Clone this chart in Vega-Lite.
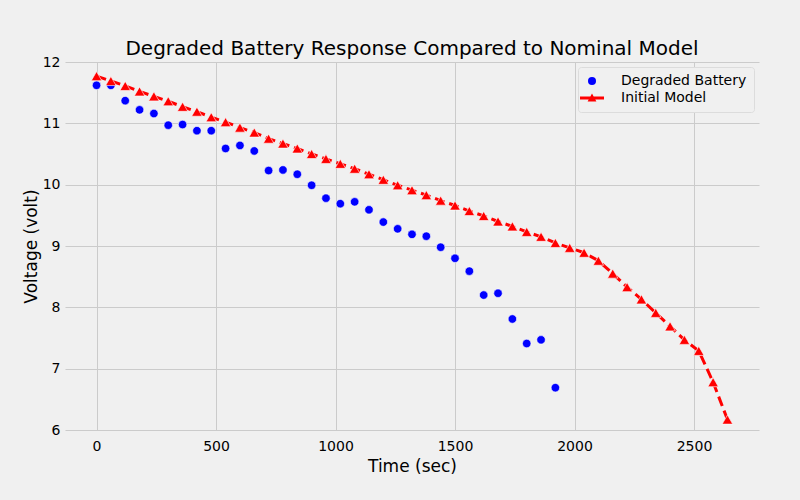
{
  "$schema": "https://vega.github.io/schema/vega-lite/v6.json",
  "width": 694,
  "height": 368,
  "autosize": {"type": "none"},
  "padding": {"left": 65, "top": 62, "right": 41, "bottom": 70},
  "background": "#f0f0f0",
  "title": {
    "text": "Degraded Battery Response Compared to Nominal Model",
    "fontSize": 20,
    "fontWeight": "normal",
    "font": "DejaVu Sans",
    "color": "#000000",
    "offset": -4,
    "anchor": "middle"
  },
  "data": {
    "values": [
      {"t": 0, "v": 11.62, "series": "Degraded Battery"},
      {"t": 60, "v": 11.62, "series": "Degraded Battery"},
      {"t": 120, "v": 11.37, "series": "Degraded Battery"},
      {"t": 180, "v": 11.22, "series": "Degraded Battery"},
      {"t": 240, "v": 11.16, "series": "Degraded Battery"},
      {"t": 300, "v": 10.97, "series": "Degraded Battery"},
      {"t": 360, "v": 10.98, "series": "Degraded Battery"},
      {"t": 420, "v": 10.88, "series": "Degraded Battery"},
      {"t": 480, "v": 10.88, "series": "Degraded Battery"},
      {"t": 540, "v": 10.59, "series": "Degraded Battery"},
      {"t": 600, "v": 10.64, "series": "Degraded Battery"},
      {"t": 660, "v": 10.55, "series": "Degraded Battery"},
      {"t": 720, "v": 10.23, "series": "Degraded Battery"},
      {"t": 780, "v": 10.24, "series": "Degraded Battery"},
      {"t": 840, "v": 10.17, "series": "Degraded Battery"},
      {"t": 900, "v": 9.99, "series": "Degraded Battery"},
      {"t": 960, "v": 9.78, "series": "Degraded Battery"},
      {"t": 1020, "v": 9.69, "series": "Degraded Battery"},
      {"t": 1080, "v": 9.72, "series": "Degraded Battery"},
      {"t": 1140, "v": 9.59, "series": "Degraded Battery"},
      {"t": 1200, "v": 9.39, "series": "Degraded Battery"},
      {"t": 1260, "v": 9.28, "series": "Degraded Battery"},
      {"t": 1320, "v": 9.19, "series": "Degraded Battery"},
      {"t": 1380, "v": 9.16, "series": "Degraded Battery"},
      {"t": 1440, "v": 8.98, "series": "Degraded Battery"},
      {"t": 1500, "v": 8.8, "series": "Degraded Battery"},
      {"t": 1560, "v": 8.59, "series": "Degraded Battery"},
      {"t": 1620, "v": 8.2, "series": "Degraded Battery"},
      {"t": 1680, "v": 8.23, "series": "Degraded Battery"},
      {"t": 1740, "v": 7.81, "series": "Degraded Battery"},
      {"t": 1800, "v": 7.41, "series": "Degraded Battery"},
      {"t": 1860, "v": 7.47, "series": "Degraded Battery"},
      {"t": 1920, "v": 6.69, "series": "Degraded Battery"},
      {"t": 0, "v": 11.77, "series": "Initial Model"},
      {"t": 60, "v": 11.69, "series": "Initial Model"},
      {"t": 120, "v": 11.61, "series": "Initial Model"},
      {"t": 180, "v": 11.52, "series": "Initial Model"},
      {"t": 240, "v": 11.44, "series": "Initial Model"},
      {"t": 300, "v": 11.36, "series": "Initial Model"},
      {"t": 360, "v": 11.27, "series": "Initial Model"},
      {"t": 420, "v": 11.19, "series": "Initial Model"},
      {"t": 480, "v": 11.1, "series": "Initial Model"},
      {"t": 540, "v": 11.02, "series": "Initial Model"},
      {"t": 600, "v": 10.93, "series": "Initial Model"},
      {"t": 660, "v": 10.85, "series": "Initial Model"},
      {"t": 720, "v": 10.75, "series": "Initial Model"},
      {"t": 780, "v": 10.67, "series": "Initial Model"},
      {"t": 840, "v": 10.59, "series": "Initial Model"},
      {"t": 900, "v": 10.5, "series": "Initial Model"},
      {"t": 960, "v": 10.42, "series": "Initial Model"},
      {"t": 1020, "v": 10.34, "series": "Initial Model"},
      {"t": 1080, "v": 10.26, "series": "Initial Model"},
      {"t": 1140, "v": 10.17, "series": "Initial Model"},
      {"t": 1200, "v": 10.08, "series": "Initial Model"},
      {"t": 1260, "v": 9.99, "series": "Initial Model"},
      {"t": 1320, "v": 9.91, "series": "Initial Model"},
      {"t": 1380, "v": 9.83, "series": "Initial Model"},
      {"t": 1440, "v": 9.74, "series": "Initial Model"},
      {"t": 1500, "v": 9.66, "series": "Initial Model"},
      {"t": 1560, "v": 9.57, "series": "Initial Model"},
      {"t": 1620, "v": 9.49, "series": "Initial Model"},
      {"t": 1680, "v": 9.4, "series": "Initial Model"},
      {"t": 1740, "v": 9.32, "series": "Initial Model"},
      {"t": 1800, "v": 9.23, "series": "Initial Model"},
      {"t": 1860, "v": 9.15, "series": "Initial Model"},
      {"t": 1920, "v": 9.05, "series": "Initial Model"},
      {"t": 1980, "v": 8.97, "series": "Initial Model"},
      {"t": 2040, "v": 8.89, "series": "Initial Model"},
      {"t": 2100, "v": 8.76, "series": "Initial Model"},
      {"t": 2160, "v": 8.55, "series": "Initial Model"},
      {"t": 2220, "v": 8.33, "series": "Initial Model"},
      {"t": 2280, "v": 8.13, "series": "Initial Model"},
      {"t": 2340, "v": 7.91, "series": "Initial Model"},
      {"t": 2400, "v": 7.69, "series": "Initial Model"},
      {"t": 2460, "v": 7.47, "series": "Initial Model"},
      {"t": 2520, "v": 7.29, "series": "Initial Model"},
      {"t": 2580, "v": 6.78, "series": "Initial Model"},
      {"t": 2640, "v": 6.17, "series": "Initial Model"}
    ]
  },
  "encoding": {
    "x": {
      "field": "t",
      "type": "quantitative",
      "title": "Time (sec)",
      "scale": {"domain": [-132, 2772], "nice": false, "zero": false},
      "axis": {"values": [0, 500, 1000, 1500, 2000, 2500], "format": "d", "titlePadding": 5, "labelPadding": 9}
    },
    "y": {
      "field": "v",
      "type": "quantitative",
      "title": "Voltage (volt)",
      "scale": {"domain": [6, 12], "nice": false, "zero": false},
      "axis": {"values": [6, 7, 8, 9, 10, 11, 12], "titlePadding": 2, "labelPadding": 5}
    }
  },
  "layer": [
    {
      "transform": [{"filter": "datum.series === 'Degraded Battery'"}],
      "mark": {"type": "point", "filled": true, "size": 72, "opacity": 1, "stroke": "#ffffff", "strokeWidth": 0.6},
      "encoding": {
        "color": {
          "field": "series",
          "type": "nominal",
          "scale": {"domain": ["Degraded Battery", "Initial Model"], "range": ["#0000ff", "#ff0000"]},
          "legend": {
            "title": null,
            "orient": "none",
            "legendX": 513,
            "legendY": 5,
            "labelFontSize": 14,
            "labelFont": "DejaVu Sans",
            "labelColor": "#000000",
            "symbolSize": 64,
            "symbolStrokeWidth": 0,
            "symbolOpacity": 1,
            "labelOffset": 22,
            "rowPadding": 3,
            "padding": 7,
            "fillColor": "#f0f0f0",
            "strokeColor": "#dcdcdc",
            "cornerRadius": 3
          }
        },
        "shape": {
          "field": "series",
          "type": "nominal",
          "scale": {
            "domain": ["Degraded Battery", "Initial Model"],
            "range": ["circle", "M-3,-0.35H3V0.35H-3Z M0,-1.15L1.1,0.85H-1.1Z"]
          },
          "legend": {
            "title": null,
            "orient": "none",
            "legendX": 513,
            "legendY": 5,
            "labelFontSize": 14,
            "labelFont": "DejaVu Sans",
            "labelColor": "#000000",
            "symbolSize": 64,
            "symbolStrokeWidth": 0,
            "symbolOpacity": 1,
            "labelOffset": 22,
            "rowPadding": 3,
            "padding": 7,
            "fillColor": "#f0f0f0",
            "strokeColor": "#dcdcdc",
            "cornerRadius": 3
          }
        }
      }
    },
    {
      "transform": [{"filter": "datum.series === 'Initial Model'"}],
      "mark": {"type": "line", "color": "#ff0000", "strokeWidth": 3, "strokeDash": [10, 5]},
      "encoding": {}
    },
    {
      "transform": [{"filter": "datum.series === 'Initial Model'"}],
      "mark": {"type": "point", "shape": "triangle-up", "filled": true, "size": 110, "opacity": 1, "color": "#ff0000", "stroke": "#ffffff", "strokeWidth": 0.6},
      "encoding": {}
    }
  ],
  "config": {
    "font": "DejaVu Sans",
    "view": {"stroke": null},
    "axis": {
      "domain": false,
      "ticks": false,
      "grid": true,
      "gridColor": "#cbcbcb",
      "gridWidth": 1,
      "labelFontSize": 14,
      "labelColor": "#000000",
      "labelFont": "DejaVu Sans",
      "titleFontSize": 17,
      "titleFontWeight": "normal",
      "titleColor": "#000000",
      "titleFont": "DejaVu Sans"
    }
  }
}
